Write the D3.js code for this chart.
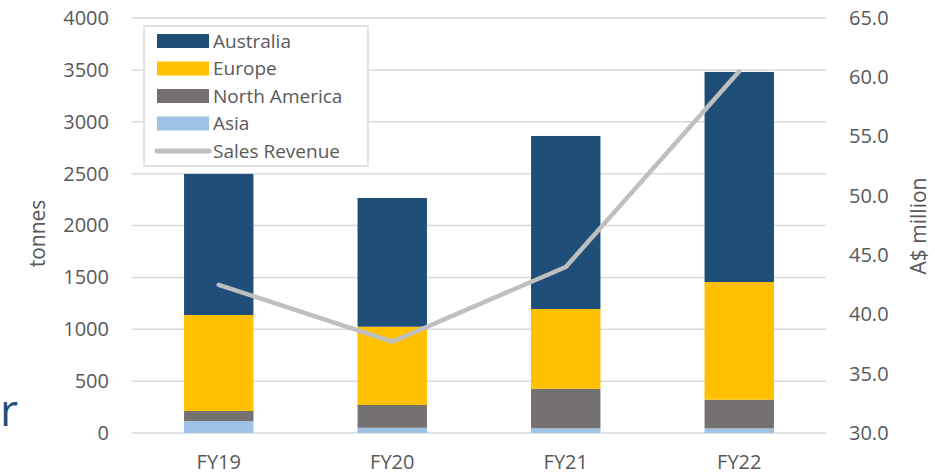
<!DOCTYPE html>
<html>
<head>
<meta charset="utf-8">
<script src="https://cdn.jsdelivr.net/npm/d3@7"></script>
<style>
    body { margin: 0; background: #fff; }
    text { font-family: "Open Sans", sans-serif; fill: #595959; }
</style>
</head>
<body>
<script>
    var categories = ["FY19", "FY20", "FY21", "FY22"];
    var asia = [115, 50, 45, 45];
    var northAmerica = [97, 220, 380, 276];
    var europe = [925, 755, 770, 1134];
    var australia = [1360, 1240, 1668, 2025];
    var salesRevenue = [42.5, 37.7, 44.0, 60.5];
    var leftTicks = [0, 500, 1000, 1500, 2000, 2500, 3000, 3500, 4000];
    var rightTicks = [30, 35, 40, 45, 50, 55, 60, 65];

    var seriesNames = ["Asia", "North America", "Europe", "Australia"];
    var colors = {
        "Australia": "#1f4e79",
        "Europe": "#ffc000",
        "North America": "#767171",
        "Asia": "#9dc3e6"
    };

    var data = categories.map(function (c, i) {
        return {
            cat: c,
            "Asia": asia[i],
            "North America": northAmerica[i],
            "Europe": europe[i],
            "Australia": australia[i]
        };
    });

    var margin = { left: 132, right: 109, top: 18, bottom: 42 };
    var width = 935 - margin.left - margin.right;
    var height = 475 - margin.top - margin.bottom;

    var svg = d3.select("body").append("svg")
        .attr("width", 935)
        .attr("height", 475);

    // cut-off title letter from the slide
    svg.append("text")
        .attr("x", 0)
        .attr("y", 426)
        .style("font-size", "44px")
        .style("fill", "#1f4e79")
        .text("r");

    var g = svg.append("g")
        .attr("transform", "translate(" + margin.left + "," + margin.top + ")");

    var x = d3.scaleBand()
        .domain(categories)
        .range([0, width])
        .paddingInner(0.6)
        .paddingOuter(0.3);

    var y = d3.scaleLinear().domain([0, 4000]).range([height, 0]);
    var y2 = d3.scaleLinear().domain([30, 65]).range([height, 0]);

    // gridlines
    g.selectAll(".grid")
        .data(leftTicks)
        .enter()
        .append("line")
        .attr("x1", 0)
        .attr("x2", width)
        .attr("y1", function (d) { return y(d); })
        .attr("y2", function (d) { return y(d); })
        .attr("stroke", "#d9d9d9")
        .attr("stroke-width", 1.5);

    var stack = d3.stack().keys(seriesNames)(data);

    g.selectAll(".layer")
        .data(stack)
        .enter()
        .append("g")
        .attr("fill", function (d) { return colors[d.key]; })
        .selectAll("rect")
        .data(function (d) { return d; })
        .enter()
        .append("rect")
        .attr("x", function (d) { return x(d.data.cat); })
        .attr("width", x.bandwidth())
        .attr("y", function (d) { return y(d[1]); })
        .attr("height", function (d) { return y(d[0]) - y(d[1]); });

    var line = d3.line()
        .x(function (d, i) { return x(categories[i]) + x.bandwidth() / 2; })
        .y(function (d) { return y2(d); });

    g.append("path")
        .datum(salesRevenue)
        .attr("d", line)
        .attr("fill", "none")
        .attr("stroke", "#bfbfbf")
        .attr("stroke-width", 4.5)
        .attr("stroke-linecap", "round")
        .attr("stroke-linejoin", "round");

    // axes
    var leftAxis = g.append("g")
        .call(d3.axisLeft(y).tickValues(leftTicks).tickSize(0).tickPadding(23)
            .tickFormat(d3.format("d")));
    var rightAxis = g.append("g")
        .attr("transform", "translate(" + width + ",0)")
        .call(d3.axisRight(y2).tickValues(rightTicks).tickSize(0).tickPadding(23)
            .tickFormat(d3.format(".1f")));
    var bottomAxis = g.append("g")
        .attr("transform", "translate(0," + height + ")")
        .call(d3.axisBottom(x).tickSize(0).tickPadding(22));

    [leftAxis, rightAxis, bottomAxis].forEach(function (a) {
        a.select(".domain").remove();
        a.selectAll("text")
            .style("font-size", "20px")
            .style("font-family", "'Open Sans', sans-serif")
            .attr("fill", "#595959");
    });

    // axis titles
    svg.append("text")
        .attr("transform", "translate(45," + (margin.top + height / 2 + 8) + ") rotate(-90)")
        .attr("text-anchor", "middle")
        .style("font-size", "21px")
        .text("tonnes");

    svg.append("text")
        .attr("transform", "translate(926,226) rotate(-90)")
        .attr("text-anchor", "middle")
        .style("font-size", "21px")
        .text("A$ million");

    // legend
    var legend = svg.append("g").attr("transform", "translate(144,26)");
    legend.append("rect")
        .attr("width", 224)
        .attr("height", 140)
        .attr("fill", "#fff")
        .attr("stroke", "#d9d9d9")
        .attr("stroke-width", 1.5);

    var legendItems = ["Australia", "Europe", "North America", "Asia", "Sales Revenue"];
    var rows = legend.selectAll(".item")
        .data(legendItems)
        .enter()
        .append("g")
        .attr("transform", function (d, i) { return "translate(0," + (15 + i * 27.5) + ")"; });

    rows.filter(function (d) { return d !== "Sales Revenue"; })
        .append("rect")
        .attr("x", 13)
        .attr("y", -7)
        .attr("width", 52)
        .attr("height", 14)
        .attr("fill", function (d) { return colors[d]; });

    rows.filter(function (d) { return d === "Sales Revenue"; })
        .append("line")
        .attr("x1", 13)
        .attr("x2", 65)
        .attr("stroke", "#bfbfbf")
        .attr("stroke-width", 5)
        .attr("stroke-linecap", "round");

    rows.append("text")
        .attr("x", 69)
        .attr("dy", "0.35em")
        .style("font-size", "19px")
        .text(function (d) { return d; });
</script>
</body>
</html>
